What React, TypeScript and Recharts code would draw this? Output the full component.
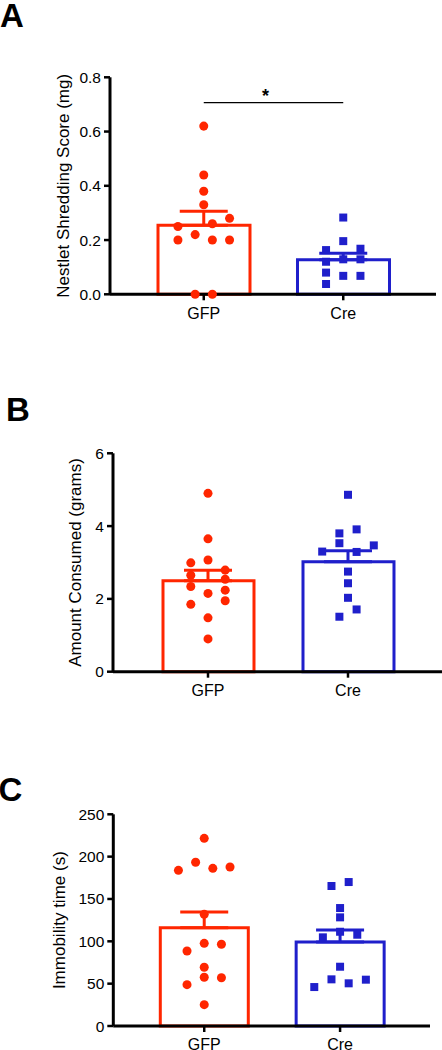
import {
  ComposedChart,
  Bar,
  Cell,
  Scatter,
  ErrorBar,
  XAxis,
  YAxis,
  ZAxis,
  ReferenceLine,
} from "recharts";

const GROUPS = ["GFP", "Cre"];
const RED = "#ff2600";
const BLUE = "#1f1fcb";
const FONT = "'Liberation Sans', Arial, Helvetica, sans-serif";

// A: nestlet shredding score (mg)
const nestletGfp = [0.62, 0.44, 0.38, 0.33, 0.28, 0.25, 0.26, 0.2, 0.22, 0.2, 0.2, 0, 0];
const nestletGfpCol = [0, 0, 0, 0, 3, -3, 1, -3, -1, 1, 3, -1, 1];
const nestletCre = [0.283, 0.196, 0.163, 0.168, 0.12, 0.129, 0.129, 0.08, 0.068, 0.068, 0.038];
const nestletCreCol = [0, 0, -2, 2, -2, 0, 2, -2, 0, 2, -2];
const nestletMean = [0.255, 0.127];
const nestletSem = [0.051, 0.024];
const nestletTicks = [0, 0.2, 0.4, 0.6, 0.8];
const nestletSig = 0.707;

// B: amount consumed (grams)
const foodGfp = [4.9, 3.65, 2.99, 3.07, 2.65, 2.79, 2.54, 2.34, 2.24, 2.15, 1.95, 1.85, 1.48, 0.9];
const foodGfpCol = [0, 0, -2, 0, -2, 2, 2, -2, 2, 0, 2, -2, 0, 0];
const foodCre = [4.86, 3.91, 3.8, 3.53, 3.47, 3.3, 3.29, 2.75, 2.43, 2.03, 1.71, 1.51];
const foodCreCol = [0, 1, -1, -1, 3, -3, 1, 0, 0, 0, 1, -1];
const foodMean = [2.5, 3.02];
const foodSem = [0.29, 0.3];
const foodTicks = [0, 2, 4, 6];

// C: immobility time (s)
const immGfp = [221.6, 193.3, 183.8, 186.2, 187.7, 131.9, 97.6, 96.5, 88.5, 69.3, 57.5, 57.0, 48.8, 25.2];
const immGfpCol = [0, -1, -3, 1, 3, 0, 0, 2, -2, 0, 0, 2, -2, 0];
const immCre = [170, 165.3, 139.3, 128.3, 111.3, 104.7, 107.8, 70, 55.1, 54.7, 50.4, 46];
const immCreCol = [1, -1, 0, 0, 0, -2, 2, 0, -1, 3, 1, -3];
const immMean = [116, 99.2];
const immSem = [18.6, 14.1];
const immTicks = [0, 50, 100, 150, 200, 250];

const HALF_STEP = 8.6; // px between jitter columns (half a symbol spacing)

interface PanelCfg {
  letter: string;
  letterX: number;
  letterY: number;
  top: number;
  plotLeft: number;
  plotTop: number;
  plotBottom: number;
  plotRight: number;
  padL: number;
  padR: number;
  ticks: number[];
  fmt: (v: number) => string;
  title: string;
  titleX: number;
  gfp: number[];
  gfpCol: number[];
  cre: number[];
  creCol: number[];
  mean: number[];
  sem: number[];
  barSize: number;
  sig?: number;
}

const PANELS: PanelCfg[] = [
  {
    letter: "A", letterX: 0, letterY: 27, top: 0,
    plotLeft: 110, plotTop: 77.3, plotBottom: 294.3, plotRight: 436, padL: 24, padR: 23,
    ticks: nestletTicks, fmt: (v) => v.toFixed(1),
    title: "Nestlet Shredding Score (mg)", titleX: 63,
    gfp: nestletGfp, gfpCol: nestletGfpCol, cre: nestletCre, creCol: nestletCreCol,
    mean: nestletMean, sem: nestletSem, barSize: 92, sig: nestletSig,
  },
  {
    letter: "B", letterX: 6, letterY: 421, top: 360,
    plotLeft: 113, plotTop: 453.3, plotBottom: 671.7, plotRight: 442, padL: 25, padR: 24,
    ticks: foodTicks, fmt: (v) => String(v),
    title: "Amount Consumed (grams)", titleX: 76,
    gfp: foodGfp, gfpCol: foodGfpCol, cre: foodCre, creCol: foodCreCol,
    mean: foodMean, sem: foodSem, barSize: 91,
  },
  {
    letter: "C", letterX: -1.5, letterY: 801, top: 720,
    plotLeft: 113.3, plotTop: 814.3, plotBottom: 1026, plotRight: 430, padL: 23, padR: 22,
    ticks: immTicks, fmt: (v) => String(v),
    title: "Immobility time (s)", titleX: 60,
    gfp: immGfp, gfpCol: immGfpCol, cre: immCre, creCol: immCreCol,
    mean: immMean, sem: immSem, barSize: 88,
  },
];

const noShape = () => <g />;

function Panel({ cfg }: { cfg: PanelCfg }) {
  const height = cfg.plotBottom - cfg.top + 34;
  const band = (cfg.plotRight - cfg.plotLeft - cfg.padL - cfg.padR) / 2;
  const jitter = (col: number) => (col * HALF_STEP) / band;

  const barData = GROUPS.map((g, i) => ({ group: g, y: cfg.mean[i] }));
  const gfpPts = cfg.gfp.map((v, i) => ({ x: 0.5 + jitter(cfg.gfpCol[i]), y: v }));
  const crePts = cfg.cre.map((v, i) => ({ x: 1.5 + jitter(cfg.creCol[i]), y: v }));
  const gfpErr = [{ x: 0.5, y: cfg.mean[0], err: [0, cfg.sem[0]] }];
  const creErr = [{ x: 1.5, y: cfg.mean[1], err: [0, cfg.sem[1]] }];
  const max = cfg.ticks[cfg.ticks.length - 1];

  const titleLabel = (p: any) => {
    const vb = p.viewBox;
    const cy = vb.y + vb.height / 2;
    return (
      <text
        x={cfg.titleX}
        y={cy}
        transform={`rotate(-90 ${cfg.titleX} ${cy})`}
        textAnchor="middle"
        dominantBaseline="central"
        fontSize={17}
        fontFamily={FONT}
        fill="#000"
      >
        {cfg.title}
      </text>
    );
  };

  const starLabel = (p: any) => {
    const vb = p.viewBox;
    return (
      <text
        x={vb.x + vb.width / 2 - 8}
        y={vb.y - 1}
        textAnchor="middle"
        fontSize={18}
        fontWeight="bold"
        fontFamily={FONT}
        fill="#000"
      >
        *
      </text>
    );
  };

  return (
    <div style={{ position: "absolute", left: 0, top: cfg.top }}>
      <ComposedChart
        width={442}
        height={height}
        data={barData}
        margin={{ top: cfg.plotTop - cfg.top, right: 442 - cfg.plotRight, left: 0, bottom: 4 }}
      >
        <XAxis
          xAxisId="cat"
          dataKey="group"
          type="category"
          padding={{ left: cfg.padL, right: cfg.padR }}
          height={30}
          axisLine={{ stroke: "#000", strokeWidth: 3 }}
          tickLine={{ stroke: "#000", strokeWidth: 2.5 }}
          tickSize={6}
          tickMargin={7}
          tick={{ fill: "#000", fontSize: 16, fontFamily: FONT }}
        />
        <XAxis
          xAxisId="num"
          dataKey="x"
          type="number"
          domain={[0, 2]}
          padding={{ left: cfg.padL, right: cfg.padR }}
          hide
        />
        <YAxis
          dataKey="y"
          type="number"
          domain={[0, max]}
          ticks={cfg.ticks}
          tickFormatter={cfg.fmt}
          width={cfg.plotLeft}
          axisLine={{ stroke: "#000", strokeWidth: 3 }}
          tickLine={{ stroke: "#000", strokeWidth: 2.5 }}
          tickSize={6}
          tickMargin={3}
          tick={{ fill: "#000", fontSize: 15.5, fontFamily: FONT }}
          label={{ content: titleLabel }}
        />
        <ZAxis type="number" range={[64, 64]} />

        <Bar
          xAxisId="cat"
          dataKey="y"
          barSize={cfg.barSize}
          fill="#fff"
          strokeWidth={3}
          isAnimationActive={false}
        >
          <Cell stroke={RED} />
          <Cell stroke={BLUE} />
        </Bar>

        <Scatter xAxisId="num" data={gfpErr} shape={noShape} isAnimationActive={false}>
          <ErrorBar dataKey="err" direction="y" width={24} strokeWidth={3} stroke={RED} />
        </Scatter>
        <Scatter xAxisId="num" data={creErr} shape={noShape} isAnimationActive={false}>
          <ErrorBar dataKey="err" direction="y" width={24} strokeWidth={3} stroke={BLUE} />
        </Scatter>

        <Scatter xAxisId="num" data={gfpPts} shape="circle" fill={RED} isAnimationActive={false} />
        <Scatter xAxisId="num" data={crePts} shape="square" fill={BLUE} isAnimationActive={false} />

        {cfg.sig != null && (
          <ReferenceLine
            xAxisId="num"
            segment={[
              { x: 0.5, y: cfg.sig },
              { x: 1.5, y: cfg.sig },
            ]}
            stroke="#000"
            strokeWidth={1.3}
            label={{ content: starLabel }}
          />
        )}
      </ComposedChart>
    </div>
  );
}

export default function App() {
  return (
    <div style={{ position: "absolute", left: 0, top: 0, width: 442, height: 1050, background: "#fff" }}>
      {PANELS.map((p) => (
        <Panel key={p.letter} cfg={p} />
      ))}
      <svg
        width={442}
        height={1050}
        style={{ position: "absolute", left: 0, top: 0, pointerEvents: "none" }}
      >
        {PANELS.map((p) => (
          <text
            key={p.letter}
            x={p.letterX}
            y={p.letterY}
            fontSize={33}
            fontWeight="bold"
            fontFamily={FONT}
            fill="#000"
          >
            {p.letter}
          </text>
        ))}
      </svg>
    </div>
  );
}
